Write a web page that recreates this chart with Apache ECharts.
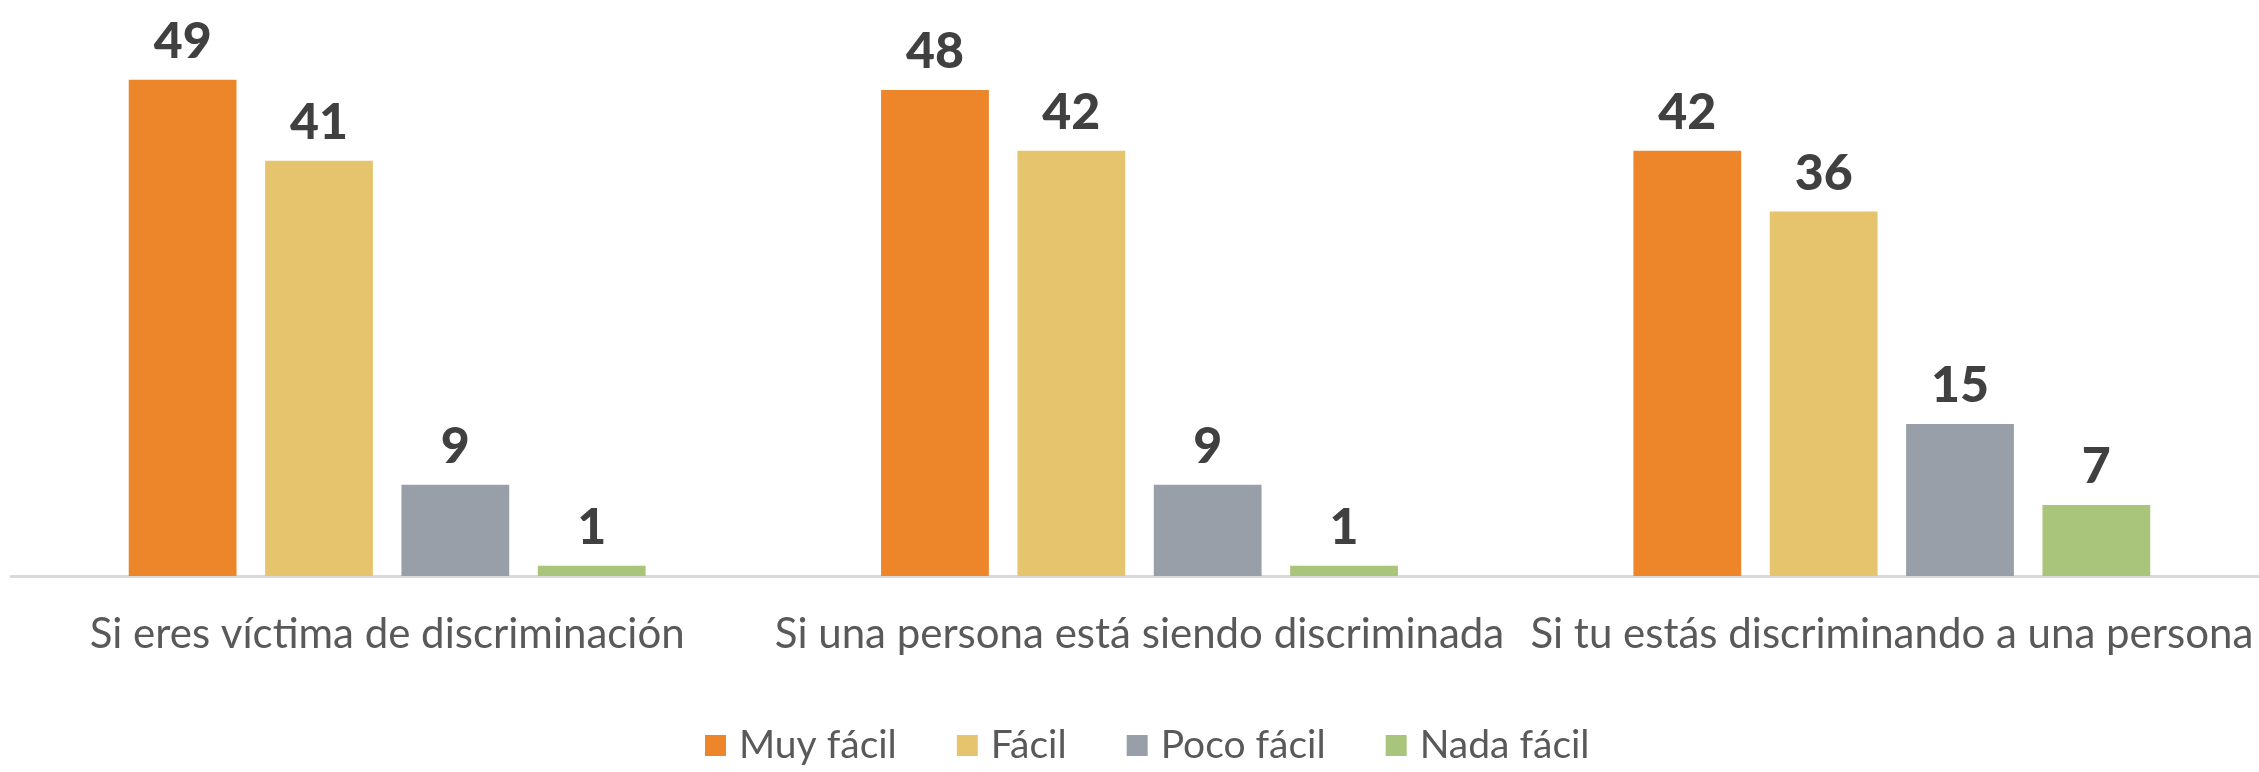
<!DOCTYPE html>
<html>
<head>
<meta charset="utf-8">
<script src="https://cdn.jsdelivr.net/npm/echarts@6/dist/echarts.min.js"></script>
<style>
    html, body { margin: 0; padding: 0; background: #fff; }
    #chart { width: 2259px; height: 772px; }
</style>
</head>
<body>
<div id="chart"></div>
<script>
var categories = ['Si eres víctima de discriminación', 'Si una persona está siendo discriminada', 'Si tu estás discriminando a una persona'];
var muy_facil = [49, 48, 42];
var facil = [41, 42, 36];
var poco_facil = [9, 9, 15];
var nada_facil = [1, 1, 7];

var series_names = ['Muy fácil', 'Fácil', 'Poco fácil', 'Nada fácil'];
var series_values = [muy_facil, facil, poco_facil, nada_facil];
var colors = ['#ED852A', '#E6C46E', '#989FA8', '#A9C47B'];

function make_series(name, values) {
    return {
        name: name,
        type: 'bar',
        data: values,
        barGap: '26.5%',
        barCategoryGap: '31.3%',
        label: {
            show: true, position: 'top', distance: 13,
            color: '#404040', fontSize: 50, fontWeight: 900,
            fontFamily: 'Lato'
        }
    };
}

var chart = echarts.init(document.getElementById('chart'));
chart.setOption({
    color: colors,
    animation: false,
    textStyle: { fontFamily: 'Lato' },
    grid: { left: 11, width: 2257, top: 19, bottom: 196, outerBoundsMode: 'none', containLabel: false },
    legend: {
        data: series_names,
        left: 700, bottom: 2,
        itemWidth: 21, itemHeight: 21, itemGap: 60,
        icon: 'rect',
        textStyle: { color: '#595959', fontSize: 39, fontFamily: 'Lato', padding: [0, 0, 0, 8] }
    },
    xAxis: [{
        type: 'category', data: categories,
        axisLine: { lineStyle: { color: '#D9D9D9', width: 3 } },
        axisTick: { show: false },
        axisLabel: { color: '#595959', fontSize: 42, margin: 37, interval: 0 }
    }],
    yAxis: [{
        type: 'value', min: 0, max: 55,
        show: false, splitLine: { show: false }
    }],
    series: series_names.map(function (n, i) { return make_series(n, series_values[i]); })
});
</script>
</body>
</html>
